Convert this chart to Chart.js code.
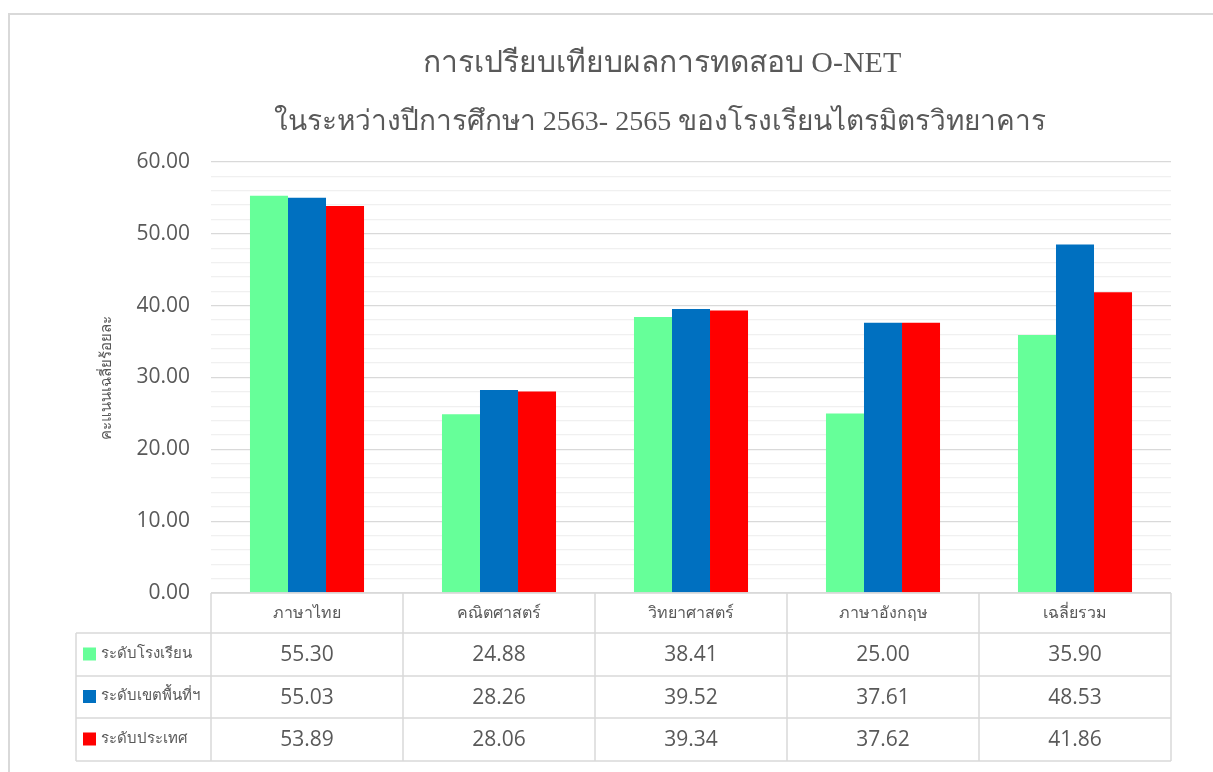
<!DOCTYPE html>
<html>
<head>
<meta charset="utf-8">
<script src="https://cdn.jsdelivr.net/npm/chart.js@4.4.0/dist/chart.umd.min.js"></script>
<style>
  html, body { margin: 0; padding: 0; background: #fff; overflow: hidden; }
  #wrap { position: relative; width: 1213px; height: 772px; }
  #frame { position: absolute; left: 8px; top: 13px; width: 1300px; height: 900px; border: 2px solid #d9d9d9; box-sizing: border-box; }
  canvas { position: absolute; left: 0; top: 0; }
</style>
</head>
<body>
<div id="wrap">
  <div id="frame"></div>
  <canvas id="chart" width="1213" height="772"></canvas>
</div>
<script>
const titleLines   = ["การเปรียบเทียบผลการทดสอบ O-NET", "ในระหว่างปีการศึกษา 2563- 2565 ของโรงเรียนไตรมิตรวิทยาคาร"]
const yAxisTitle   = "คะแนนเฉลี่ยร้อยละ"
const subjects     = ["ภาษาไทย", "คณิตศาสตร์", "วิทยาศาสตร์", "ภาษาอังกฤษ", "เฉลี่ยรวม"]
const seriesNames  = ["ระดับโรงเรียน", "ระดับเขตพื้นที่ฯ", "ระดับประเทศ"]
const schoolScores = [55.30, 24.88, 38.41, 25.00, 35.90]
const areaScores   = [55.03, 28.26, 39.52, 37.61, 48.53]
const nationScores = [53.89, 28.06, 39.34, 37.62, 41.86]
const yMin = 0, yMax = 60, yMinorStep = 2, yMajorStep = 10

const COLORS = ["#66ff99", "#0070c0", "#ff0000"]
const TEXT   = "#595959"
const LINE   = "#d9d9d9"
const BODY_FONT = "'Open Sans', 'Noto Sans', sans-serif"

// title is drawn by hand so it can sit off-centre like the original
const chartTitle = {
  id: "chartTitle",
  afterDraw(chart) {
    const { ctx } = chart
    ctx.save()
    ctx.fillStyle = TEXT
    ctx.textAlign = "center"
    ctx.textBaseline = "alphabetic"
    ctx.font = "30px 'Liberation Serif', serif"
    ctx.fillText(titleLines[0], 662, 72)
    ctx.font = "28px 'Liberation Serif', serif"
    ctx.fillText(titleLines[1], 660, 130)
    ctx.restore()
  }
}

// Excel-style data table under the plot, columns follow the x scale
const dataTable = {
  id: "dataTable",
  afterDraw(chart) {
    const { ctx, chartArea, scales: { x } } = chart
    const half = (x.getPixelForValue(1) - x.getPixelForValue(0)) / 2
    const edges = subjects.map((_, i) => x.getPixelForValue(i) - half)
    edges.push(x.getPixelForValue(subjects.length - 1) + half)
    const right = edges[edges.length - 1]
    const legendLeft = 76
    const b = chartArea.bottom
    const rows = [b, b + 40, b + 83, b + 125, b + 168]

    ctx.save()
    ctx.strokeStyle = LINE
    ctx.lineWidth = 1.5
    ctx.beginPath()
    ctx.moveTo(edges[0], rows[0]); ctx.lineTo(right, rows[0])
    for (let r = 1; r < rows.length; r++) { ctx.moveTo(legendLeft, rows[r]); ctx.lineTo(right, rows[r]) }
    ctx.moveTo(legendLeft, rows[1]); ctx.lineTo(legendLeft, rows[4])
    edges.forEach(e => { ctx.moveTo(e, rows[0]); ctx.lineTo(e, rows[4]) })
    ctx.stroke()

    ctx.fillStyle = TEXT
    ctx.textAlign = "center"
    ctx.textBaseline = "middle"
    ctx.font = `16px ${BODY_FONT}`
    subjects.forEach((s, i) => ctx.fillText(s, x.getPixelForValue(i), (rows[0] + rows[1]) / 2))

    chart.data.datasets.forEach((ds, d) => {
      const cy = (rows[d + 1] + rows[d + 2]) / 2
      ctx.font = `21px ${BODY_FONT}`
      ctx.textAlign = "center"
      ctx.fillStyle = TEXT
      ds.data.forEach((v, i) => ctx.fillText(v.toFixed(2), x.getPixelForValue(i), cy + 1))
      ctx.fillStyle = ds.backgroundColor
      ctx.fillRect(83, cy - 7, 13, 13)
      ctx.fillStyle = TEXT
      ctx.textAlign = "left"
      ctx.font = `15px ${BODY_FONT}`
      ctx.fillText(ds.label, 101, cy - 1)
    })
    ctx.restore()
  }
}

new Chart(document.getElementById("chart"), {
  type: "bar",
  data: {
    labels: subjects,
    datasets: [
      { label: seriesNames[0], data: schoolScores, backgroundColor: COLORS[0] },
      { label: seriesNames[1], data: areaScores,   backgroundColor: COLORS[1] },
      { label: seriesNames[2], data: nationScores, backgroundColor: COLORS[2] },
    ]
  },
  options: {
    responsive: false,
    animation: false,
    layout: { padding: { top: 162, bottom: 179, left: 94, right: 42 } },
    datasets: { bar: { categoryPercentage: 0.594, barPercentage: 1.0 } },
    plugins: {
      legend:  { display: false },
      tooltip: { enabled: false },
    },
    scales: {
      x: {
        ticks:  { display: false },
        grid:   { display: false },
        border: { display: false },
        afterFit: s => { s.height = 0 },
      },
      y: {
        min: yMin,
        max: yMax,
        border: { display: false },
        grid: {
          drawTicks: false,
          lineWidth: 1.3,
          color: c => (c.tick && c.tick.value % yMajorStep === 0) ? LINE : "#f0f0f0",
        },
        ticks: {
          stepSize: yMinorStep,
          autoSkip: false,
          padding: 21,
          color: TEXT,
          font: { family: BODY_FONT, size: 21 },
          callback: v => v % yMajorStep === 0 ? v.toFixed(2) : "",
        },
        title: {
          display: true,
          text: yAxisTitle,
          color: TEXT,
          font: { family: BODY_FONT, size: 15 },
        },
        afterFit: s => { s.width = 117 },
      }
    }
  },
  plugins: [chartTitle, dataTable]
})
</script>
</body>
</html>
